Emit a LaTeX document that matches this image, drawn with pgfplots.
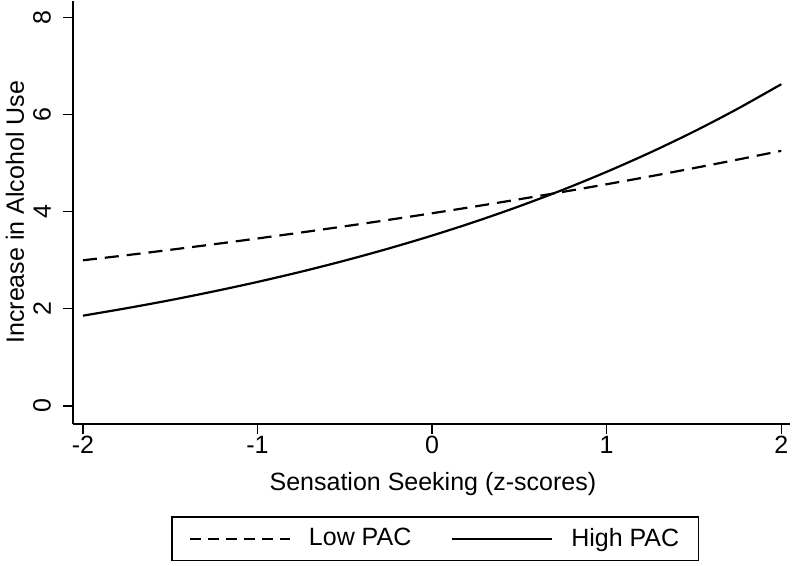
\documentclass[border=0pt]{standalone}
\usepackage{fontspec}
\setmainfont{Liberation Sans}
\usepackage{pgfplots}
\pgfplotsset{compat=1.18}
\begin{document}
\fontsize{25}{30}\selectfont
\begin{tikzpicture}[x=1pt,y=1pt]
\path (-73,-142) rectangle (727,423);
\begin{axis}[
  at={(0,0)}, anchor=south west,
  scale only axis,
  width=717pt, height=423pt,
  xmin=-2.057, xmax=2.05,
  ymin=-0.371, ymax=8.35,
  axis x line*=bottom, axis y line*=left,
  axis line style={line width=1.6pt, -},
  xtick={-2,-1,0,1,2},
  xticklabels={-2,-1,0,1,2},
  ytick={0,2,4,6,8},
  yticklabels={0,2,4,6,8},
  tick align=outside,
  major tick length=10pt,
  tick style={line width=1.4pt, black},
  ticklabel style={font=\fontsize{25}{30}\selectfont, inner sep=2pt},
  xticklabel style={anchor=north},
  yticklabel style={rotate=90, anchor=south, inner ysep=12pt},
  xlabel={Sensation Seeking (z-scores)},
  ylabel={Increase in Alcohol Use},
  label style={font=\fontsize{25}{30}\selectfont, inner sep=0pt},
  xlabel style={at={(axis description cs:0.502,-0.142)}, anchor=center},
  ylabel style={at={(axis description cs:-0.081,0.5)}, anchor=center},
  legend columns=2,
  legend style={at={(axis description cs:0.505,-0.272)}, anchor=center,
    draw=black, line width=1.2pt, font=\fontsize{25}{30}\selectfont,
    inner xsep=17pt, inner ysep=9pt,
    /tikz/every odd column/.append style={column sep=16pt},
    /tikz/every even column/.append style={column sep=38pt}},
  legend image code/.code={\draw[#1] (0pt,0pt) -- (100pt,0pt);},
  legend cell align=left,
]
\addlegendimage{black, line width=2pt, dash pattern=on 11pt off 7pt}
\addlegendentry{Low PAC}
\addlegendimage{black, line width=2pt}
\addlegendentry{High PAC}
\addplot[black, line width=2.2pt, dash pattern=on 14pt off 8pt, smooth, forget plot] coordinates {
(-2,3.000) (-1.75,3.105) (-1.5,3.216) (-1.25,3.331) (-1,3.450) (-0.75,3.573)
(-0.5,3.701) (-0.25,3.833) (0,3.970) (0.25,4.112) (0.5,4.259) (0.75,4.411)
(1,4.568) (1.25,4.731) (1.5,4.901) (1.75,5.076) (2,5.257)};
\addplot[black, line width=2.2pt, smooth, forget plot] coordinates {
(-2,1.858) (-1.75,2.012) (-1.5,2.178) (-1.25,2.359) (-1,2.554) (-0.75,2.765)
(-0.5,2.994) (-0.25,3.242) (0,3.510) (0.25,3.800) (0.5,4.115) (0.75,4.455)
(1,4.824) (1.25,5.223) (1.5,5.655) (1.75,6.124) (2,6.630)};
\end{axis}
\end{tikzpicture}
\end{document}
